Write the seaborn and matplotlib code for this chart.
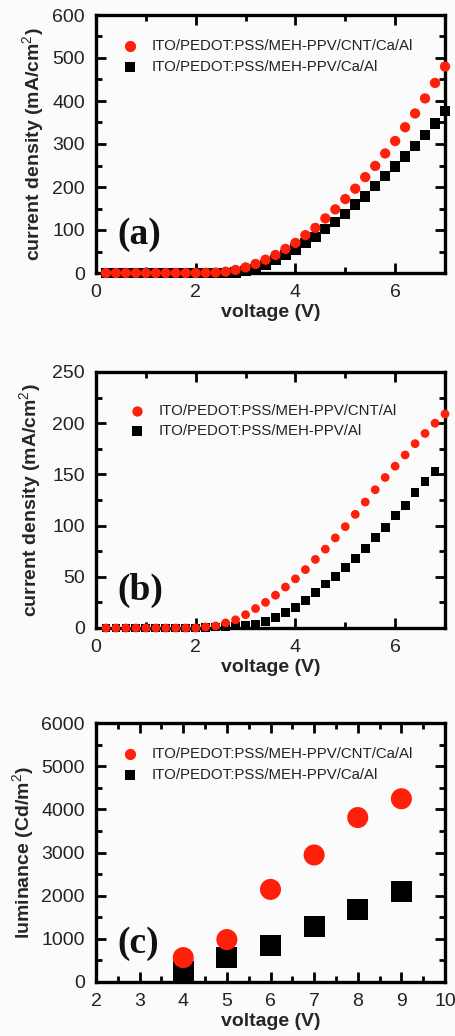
import matplotlib
matplotlib.use("Agg")
import matplotlib.pyplot as plt
import seaborn as sns
import pandas as pd
from matplotlib.ticker import MultipleLocator

sns.set_style("ticks")
plt.rcParams['font.family'] = ['Liberation Sans', 'DejaVu Sans']
plt.rcParams['mathtext.fontset'] = 'custom'
plt.rcParams['mathtext.rm'] = 'Liberation Sans'
plt.rcParams['mathtext.bf'] = 'Liberation Sans:bold'

# ---------------- data ----------------
# panel (a)
va_x = [0.2, 0.4, 0.6, 0.8, 1.0, 1.2, 1.4, 1.6, 1.8, 2.0, 2.2, 2.4, 2.6, 2.8, 3.0, 3.2, 3.4, 3.6,
        3.8, 4.0, 4.2, 4.4, 4.6, 4.8, 5.0, 5.2, 5.4, 5.6, 5.8, 6.0, 6.2, 6.4, 6.6, 6.8, 7.0]
a_cnt = [0, 0, 0, 0, 0, 0, 0, 0, 0, 0, 0.5, 1, 3, 7, 13, 21, 31, 42,
         56, 70, 88, 105, 127, 148, 172, 196, 223, 249, 278, 307, 339, 371, 406, 442, 480]
a_ref = [0, 0, 0, 0, 0, 0, 0, 0, 0, 0, 0, 0, 0.5, 1, 4, 9, 19, 31,
         42, 55, 69, 83, 102, 119, 138, 159, 178, 202, 225, 248, 271, 295, 321, 348, 377]
a_labels = ["ITO/PEDOT:PSS/MEH-PPV/CNT/Ca/Al", "ITO/PEDOT:PSS/MEH-PPV/Ca/Al"]

# panel (b)
vb_x_cnt = [0.2, 0.4, 0.6, 0.8, 1.0, 1.2, 1.4, 1.6, 1.8, 2.0, 2.2, 2.4, 2.6, 2.8, 3.0, 3.2, 3.4, 3.6,
            3.8, 4.0, 4.2, 4.4, 4.6, 4.8, 5.0, 5.2, 5.4, 5.6, 5.8, 6.0, 6.2, 6.4, 6.6, 6.8, 7.0]
b_cnt = [0, 0, 0, 0, 0, 0, 0, 0, 0, 0, 1, 2, 5, 8, 13, 19, 25, 32,
         40, 48, 57, 67, 77, 88, 99, 111, 123, 135, 147, 158, 169, 180, 190, 200, 209]
vb_x_ref = [0.2, 0.4, 0.6, 0.8, 1.0, 1.2, 1.4, 1.6, 1.8, 2.0, 2.2, 2.4, 2.6, 2.8, 3.0, 3.2, 3.4, 3.6,
            3.8, 4.0, 4.2, 4.4, 4.6, 4.8, 5.0, 5.2, 5.4, 5.6, 5.8, 6.0, 6.2, 6.4, 6.6, 6.8]
b_ref = [0, 0, 0, 0, 0, 0, 0, 0, 0, 0, 0.5, 1, 1.5, 2, 3, 4, 6, 10,
         15, 20, 27, 35, 43, 50, 59, 68, 78, 88, 98, 110, 120, 132, 143, 153]
b_labels = ["ITO/PEDOT:PSS/MEH-PPV/CNT/Al", "ITO/PEDOT:PSS/MEH-PPV/Al"]

# panel (c)
vc_x = [4, 5, 6, 7, 8, 9]
c_cnt = [565, 983, 2145, 2942, 3810, 4245]
c_ref = [232, 565, 852, 1293, 1680, 2090]
c_labels = ["ITO/PEDOT:PSS/MEH-PPV/CNT/Ca/Al", "ITO/PEDOT:PSS/MEH-PPV/Ca/Al"]

RED = "#ff200c"
BLACK = "#000000"
W, H = 455, 1036

fig = plt.figure(figsize=(W / 100, H / 100), dpi=100)
fig.patch.set_facecolor("#fbfbfb")


def make_axes(left, top, right, bottom):
    ax = fig.add_axes([left / W, 1 - bottom / H, (right - left) / W, (bottom - top) / H])
    ax.set_facecolor("#fbfbfb")
    return ax


def style(ax, xlim, ylim, xmaj, xmin, ymaj, ymin, ylabel, letter, ylabelpad):
    ax.set_xlim(*xlim)
    ax.set_ylim(*ylim)
    ax.xaxis.set_major_locator(MultipleLocator(xmaj))
    ax.xaxis.set_minor_locator(MultipleLocator(xmin))
    ax.yaxis.set_major_locator(MultipleLocator(ymaj))
    ax.yaxis.set_minor_locator(MultipleLocator(ymin))
    ax.tick_params(which='both', direction='in', top=True, right=True, width=2.0,
                   labelsize=14, labelcolor='#222222', color='black')
    ax.tick_params(which='major', length=7, pad=8)
    ax.tick_params(which='minor', length=4)
    for s in ax.spines.values():
        s.set_linewidth(2.4)
        s.set_color('black')
    ax.set_xlabel("voltage (V)", fontsize=14, fontweight='bold', labelpad=2)
    ax.set_ylabel(ylabel, fontsize=14, fontweight='bold', labelpad=ylabelpad)
    ax.text(0.06, 0.08, letter, transform=ax.transAxes, fontsize=27, fontweight='bold',
            family='Liberation Serif', color='#111111', ha='left', va='bottom')


def legend(ax, loc_xy):
    leg = ax.legend(loc='upper left', bbox_to_anchor=loc_xy, frameon=False, fontsize=10.8,
                    handletextpad=0.9, labelspacing=0.45, borderaxespad=0, handlelength=1.0)
    for t in leg.get_texts():
        t.set_color('#222222')


# ---- (a)
ax1 = make_axes(96, 15, 445, 273)
df_a = pd.DataFrame({"v": va_x * 2, "j": a_ref + a_cnt,
                     "s": [a_labels[1]] * len(va_x) + [a_labels[0]] * len(va_x)})
sns.scatterplot(data=df_a, x="v", y="j", hue="s", style="s",
                hue_order=[a_labels[1], a_labels[0]], style_order=[a_labels[1], a_labels[0]],
                palette={a_labels[0]: RED, a_labels[1]: BLACK},
                markers={a_labels[0]: "o", a_labels[1]: "s"},
                s=55, linewidth=0, ax=ax1, legend=False, clip_on=False, zorder=3)
ax1.scatter([], [], marker='o', s=65, color=RED, linewidth=0, label=a_labels[0])
ax1.scatter([], [], marker='s', s=50, color=BLACK, linewidth=0, label=a_labels[1])
style(ax1, (0, 7), (0, 600), 2, 1, 100, 50, "current density (mA/cm$^2$)", "(a)", 4)
legend(ax1, (0.06, 0.93))

# ---- (b)
ax2 = make_axes(96, 372, 445, 628)
df_b = pd.DataFrame({"v": vb_x_ref + vb_x_cnt, "j": b_ref + b_cnt,
                     "s": [b_labels[1]] * len(vb_x_ref) + [b_labels[0]] * len(vb_x_cnt)})
sns.scatterplot(data=df_b, x="v", y="j", hue="s", style="s",
                hue_order=[b_labels[1], b_labels[0]], style_order=[b_labels[1], b_labels[0]],
                palette={b_labels[0]: RED, b_labels[1]: BLACK},
                markers={b_labels[0]: "o", b_labels[1]: "s"},
                s=40, linewidth=0, ax=ax2, legend=False, clip_on=False, zorder=3)
ax2.scatter([], [], marker='o', s=55, color=RED, linewidth=0, label=b_labels[0])
ax2.scatter([], [], marker='s', s=45, color=BLACK, linewidth=0, label=b_labels[1])
style(ax2, (0, 7), (0, 250), 2, 1, 50, 25, "current density (mA/cm$^2$)", "(b)", 6)
legend(ax2, (0.08, 0.90))

# ---- (c)
ax3 = make_axes(96, 723, 445, 982)
df_c = pd.DataFrame({"v": vc_x * 2, "L": c_ref + c_cnt,
                     "s": [c_labels[1]] * len(vc_x) + [c_labels[0]] * len(vc_x)})
sns.scatterplot(data=df_c, x="v", y="L", hue="s", style="s",
                hue_order=[c_labels[1], c_labels[0]], style_order=[c_labels[1], c_labels[0]],
                palette={c_labels[0]: RED, c_labels[1]: BLACK},
                markers={c_labels[0]: "o", c_labels[1]: "s"},
                s=230, linewidth=0, ax=ax3, legend=False, clip_on=True, zorder=3)
ax3.scatter([], [], marker='o', s=65, color=RED, linewidth=0, label=c_labels[0])
ax3.scatter([], [], marker='s', s=55, color=BLACK, linewidth=0, label=c_labels[1])
style(ax3, (2, 10), (0, 6000), 1, 0.5, 1000, 500, "luminance (Cd/m$^2$)", "(c)", 3)
legend(ax3, (0.06, 0.93))

fig.savefig("out.png", dpi=100, facecolor=fig.get_facecolor())
